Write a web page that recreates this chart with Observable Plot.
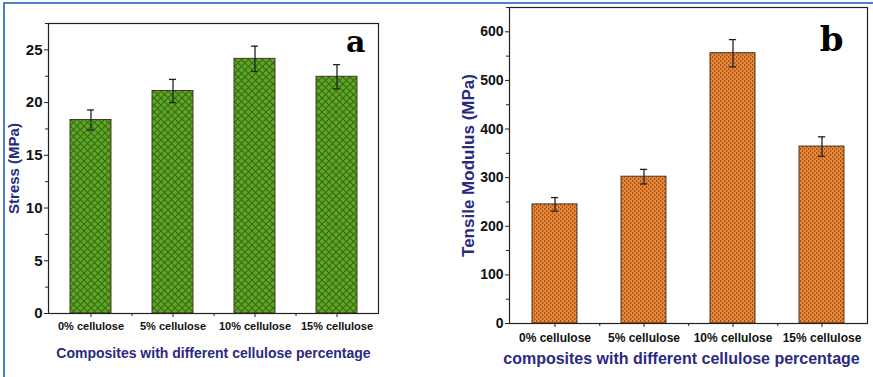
<!DOCTYPE html>
<html>
<head>
<meta charset="utf-8">
<script src="https://cdn.jsdelivr.net/npm/d3@7"></script>
<script src="https://cdn.jsdelivr.net/npm/@observablehq/plot@0.6"></script>
<style>
  html, body { margin: 0; padding: 0; background: #fff; }
  #wrap { position: relative; width: 873px; height: 377px; overflow: hidden; background: #fff; }
  .panel { position: absolute; top: 0; }
  #pa { left: 0; }
  #pb { left: 440px; }
  .bl-top { position: absolute; left: 3px; top: 2px; width: 870px; height: 2px; background: #4f7fcf; }
  .bl-left { position: absolute; left: 3px; top: 2px; width: 2px; height: 375px; background: #4f7fcf; }
</style>
</head>
<body>
<svg width="0" height="0" style="position:absolute">
  <defs>
    <pattern id="greenHatch" patternUnits="userSpaceOnUse" width="7" height="7">
      <rect width="7" height="7" fill="#62a526"></rect>
      <path d="M0,0 L7,7 M7,0 L0,7" stroke="#2f6c12" stroke-width="1.1"></path>
    </pattern>
    <pattern id="orangeDots" patternUnits="userSpaceOnUse" width="4" height="4">
      <rect width="4" height="4" fill="#ea8a36"></rect>
      <rect x="0" y="0" width="1.3" height="2" fill="#a4501c"></rect>
      <rect x="2" y="2" width="1.3" height="2" fill="#a4501c"></rect>
    </pattern>
  </defs>
</svg>
<div id="wrap">
  <div class="panel" id="pa"></div>
  <div class="panel" id="pb"></div>
  <div class="bl-top"></div>
  <div class="bl-left"></div>
</div>
<script>
// ---- data ----
const categories = ["0% cellulose", "5% cellulose", "10% cellulose", "15% cellulose"];
const stressMean = [18.35, 21.1, 24.15, 22.45];
const stressErr  = [0.95, 1.1, 1.2, 1.15];
const modulusMean = [245, 302, 556, 364];
const modulusErr  = [14, 15, 28, 20];
const stressTicks = [0, 5, 10, 15, 20, 25];
const stressMinor = [2.5, 7.5, 12.5, 17.5, 22.5, 27.5];
const modulusTicks = [0, 100, 200, 300, 400, 500, 600];
const modulusMinor = [50, 150, 250, 350, 450, 550, 650];

const navy = "#2a2a80";

function panel(opts) {
  const rows = categories.map((c, i) => ({cat: c, v: opts.mean[i], e: opts.err[i]}));
  const innerW = opts.width - opts.ml - opts.mr;
  const step = innerW / (categories.length - opts.pi + 2 * opts.po);
  const bw = step * (1 - opts.pi);
  return Plot.plot({
    width: opts.width,
    height: 377,
    marginLeft: opts.ml, marginRight: opts.mr, marginTop: opts.mt, marginBottom: opts.mb,
    style: {fontFamily: "'Liberation Sans', Arial, sans-serif", fontWeight: "bold", background: "transparent", color: "#111"},
    x: {type: "band", domain: categories, paddingInner: opts.pi, paddingOuter: opts.po, label: null},
    y: {domain: opts.ydomain, label: null},
    marks: [
      Plot.barY(rows, {x: "cat", y: "v", fill: opts.fill, stroke: "#3a2a1a", strokeWidth: 0.9}),
      Plot.ruleX(rows, {x: "cat", y1: d => d.v - d.e, y2: d => d.v + d.e, stroke: "#222", strokeWidth: 1.3}),
      Plot.tickY(rows, {x: "cat", y: d => d.v + d.e, stroke: "#222", strokeWidth: 1.3, insetLeft: (bw - 7) / 2, insetRight: (bw - 7) / 2}),
      Plot.tickY(rows, {x: "cat", y: d => d.v - d.e, stroke: "#222", strokeWidth: 1.3, insetLeft: (bw - 7) / 2, insetRight: (bw - 7) / 2}),
      Plot.frame({stroke: "#222", strokeWidth: 1.2}),
      Plot.axisY(opts.yticks, {tickSize: 4, tickPadding: 2, fontSize: opts.yfs, fill: "#111", stroke: "#222", label: null}),
      Plot.axisY(opts.yminor, {tickSize: 3, tickFormat: () => "", stroke: "#222", label: null}),
      Plot.axisX({tickSize: 4, tickPadding: opts.xpad, fontSize: opts.xfs, fill: "#111", stroke: "#222", label: null}),
      Plot.axisX(categories.slice(0, 3), {tickSize: 3, tickFormat: () => "", stroke: "#222", dx: step / 2, label: null}),
      Plot.text([opts.ylabel], {frameAnchor: "left", dx: opts.ylx, rotate: -90, text: d => d, fontSize: opts.ylfs, fill: navy, fontWeight: "bold", textAnchor: "middle", lineAnchor: "middle"}),
      Plot.text([opts.xlabel], {frameAnchor: "bottom", dx: opts.xlx, dy: opts.xly, text: d => d, fontSize: opts.xlfs, fill: navy, fontWeight: "bold", lineAnchor: "middle"}),
      Plot.text([opts.tag], {frameAnchor: "top-right", dx: opts.tagdx, dy: opts.tagdy, text: d => d, fontSize: opts.tagfs, fontFamily: "'DejaVu Serif', 'Liberation Serif', serif", fontWeight: "bold", fill: "#000", textAnchor: "end", lineAnchor: "middle"})
    ]
  });
}

document.getElementById("pa").append(panel({
  width: 440, ml: 48, mr: 62, mt: 23, mb: 64, pi: 0.5, po: 0.26,
  mean: stressMean, err: stressErr, ydomain: [0, 27.5],
  yticks: stressTicks, yminor: stressMinor, yfs: 15, xfs: 11, xpad: 5,
  fill: "url(#greenHatch)",
  ylabel: "Stress (MPa)", ylx: -34, ylfs: 15,
  xlabel: "Composites with different cellulose percentage", xlx: 0, xly: 40, xlfs: 14,
  tag: "a", tagdx: -13, tagdy: 19, tagfs: 30
}));

document.getElementById("pb").append(panel({
  width: 433, ml: 69, mr: 6, mt: 7, mb: 54, pi: 0.5, po: 0.25,
  mean: modulusMean, err: modulusErr, ydomain: [0, 650],
  yticks: modulusTicks, yminor: modulusMinor, yfs: 14, xfs: 12, xpad: 6,
  fill: "url(#orangeDots)",
  ylabel: "Tensile Modulus (MPa)", ylx: -41, ylfs: 17,
  xlabel: "composites with different cellulose percentage", xlx: -7, xly: 35, xlfs: 16,
  tag: "b", tagdx: -24, tagdy: 33, tagfs: 34
}));
</script>
</body>
</html>
